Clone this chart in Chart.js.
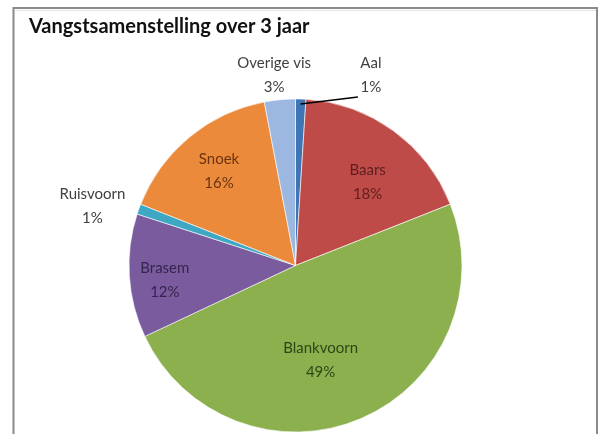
<!DOCTYPE html>
<html><head><meta charset="utf-8">
<script src="https://cdn.jsdelivr.net/npm/chart.js@4"></script>
<style>html,body{margin:0;padding:0;background:#fff}#wrap{position:relative;width:616px;height:434px}</style>
</head><body><div id="wrap"><canvas id="c" width="616" height="434"></canvas></div>
<script>
const categories = ['Aal','Baars','Blankvoorn','Brasem','Ruisvoorn','Snoek','Overige vis'];
const values = [1, 18, 49, 12, 1, 16, 3];
const percentLabels = ['1%','18%','49%','12%','1%','16%','3%'];
const chartTitle = 'Vangstsamenstelling over 3 jaar';

const sliceColors = ['#3F74B5','#BE4B48','#8DB04F','#7A5C9E','#3EA7C4','#EC8A3C','#9DB8E0'];
const labelColors = ['#404040','#5e1f1c','#2c4716','#33254d','#404040','#6a3410','#404040'];
const labelRadius = [1.23, 0.66, 0.59, 0.79, 1.27, 0.73, 1.15];
const labelShiftDeg = [19.8, 5, 8.6, -3, -3.6, 0.6, -1];

const FONT = 'Lato, "Open Sans", sans-serif';

const framePlugin = {
  id: 'frame',
  beforeDraw(chart) {
    const ctx = chart.ctx;
    ctx.save();
    ctx.fillStyle = '#fff';
    ctx.fillRect(0, 0, chart.width, chart.height);
    ctx.strokeStyle = '#8a8a8a';
    ctx.lineWidth = 2;
    ctx.strokeRect(13.5, 8, 583.5, 440);
    ctx.strokeStyle = '#e6e6e6';
    ctx.lineWidth = 1;
    ctx.beginPath();
    ctx.moveTo(15, 10.5); ctx.lineTo(596, 10.5);
    ctx.stroke();
    ctx.fillStyle = '#111';
    ctx.font = 'bold 20px ' + FONT;
    ctx.textBaseline = 'middle';
    ctx.textAlign = 'left';
    ctx.fillText(chartTitle, 29, 27);
    ctx.restore();
  }
};

const labelPlugin = {
  id: 'sliceLabels',
  afterDatasetsDraw(chart) {
    const ctx = chart.ctx;
    const meta = chart.getDatasetMeta(0);
    ctx.save();
    ctx.font = '15px ' + FONT;
    ctx.textAlign = 'center';
    ctx.textBaseline = 'middle';
    meta.data.forEach((arc, i) => {
      const p = arc.getProps(['x','y','startAngle','endAngle','outerRadius'], true);
      const mid = (p.startAngle + p.endAngle) / 2;
      const a = mid + labelShiftDeg[i] * Math.PI / 180;
      const lx = p.x + Math.cos(a) * p.outerRadius * labelRadius[i];
      const ly = p.y + Math.sin(a) * p.outerRadius * labelRadius[i];
      if (i === 0) {
        ctx.strokeStyle = '#000';
        ctx.lineWidth = 1.5;
        ctx.beginPath();
        ctx.moveTo(p.x + Math.cos(mid) * p.outerRadius * 0.97, p.y + Math.sin(mid) * p.outerRadius * 0.97);
        ctx.lineTo(lx - 13, ly + 22);
        ctx.stroke();
      }
      ctx.fillStyle = labelColors[i];
      ctx.fillText(categories[i], lx, ly - 12);
      ctx.fillText(percentLabels[i], lx, ly + 12);
    });
    ctx.restore();
  }
};

new Chart(document.getElementById('c'), {
  type: 'pie',
  data: {
    labels: categories,
    datasets: [{
      data: values,
      backgroundColor: sliceColors,
      borderColor: 'rgba(255,255,255,0.6)',
      borderWidth: 1
    }]
  },
  options: {
    responsive: false,
    animation: false,
    devicePixelRatio: 1,
    layout: { padding: { left: 20, right: 45, top: 98.5, bottom: 1.5 } },
    plugins: {
      legend: { display: false },
      tooltip: { enabled: false },
      title: { display: false }
    }
  },
  plugins: [framePlugin, labelPlugin]
});
</script>
</body></html>
